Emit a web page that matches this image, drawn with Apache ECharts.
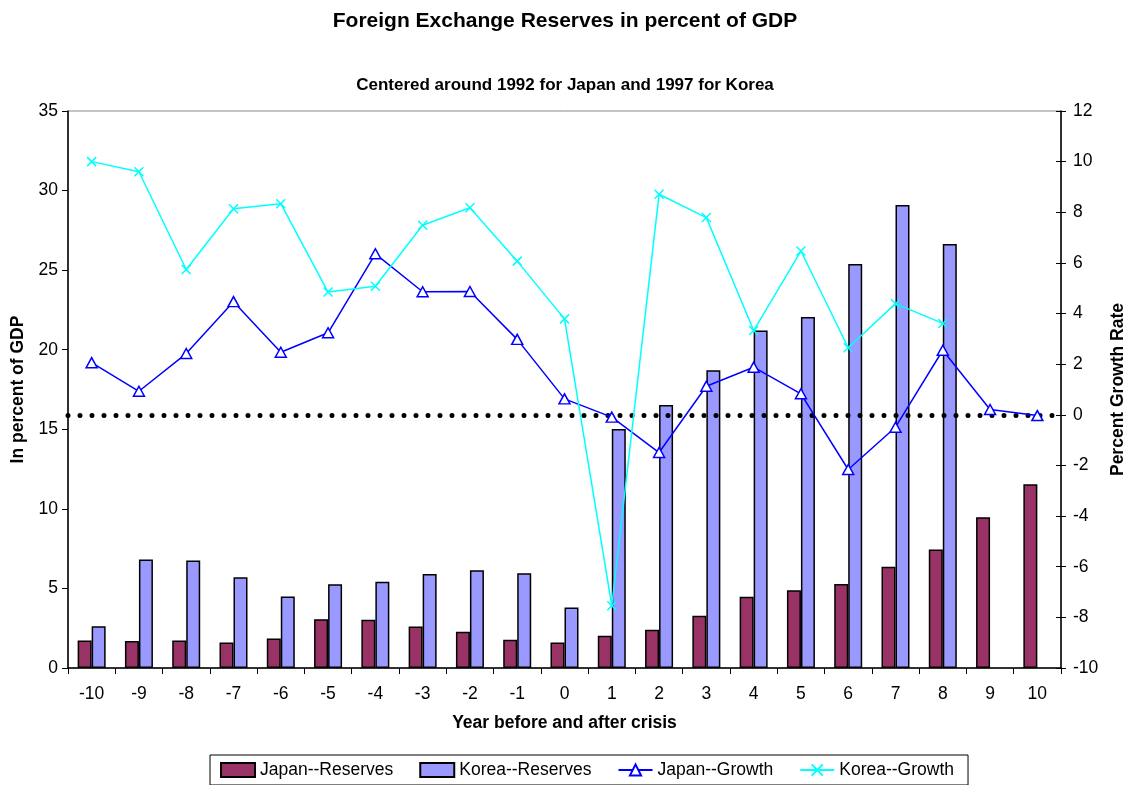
<!DOCTYPE html>
<html>
<head>
<meta charset="utf-8">
<script src="https://cdn.jsdelivr.net/npm/echarts@6/dist/echarts.min.js"></script>
<style>
  html, body { margin: 0; padding: 0; background: #fff; }
  #chart { width: 1130px; height: 785px; }
</style>
</head>
<body>
<div id="chart"></div>
<script>
// years relative to the crisis
const years = ['-10', '-9', '-8', '-7', '-6', '-5', '-4', '-3', '-2', '-1', '0',
  '1', '2', '3', '4', '5', '6', '7', '8', '9', '10']

// reserves, percent of GDP (left axis)
const japanReserves = [1.73, 1.69, 1.73, 1.60, 1.86, 3.07, 3.03, 2.61, 2.28, 1.77, 1.60,
  2.02, 2.40, 3.28, 4.48, 4.89, 5.28, 6.36, 7.45, 9.48, 11.54]
const koreaReserves = [2.63, 6.82, 6.76, 5.71, 4.50, 5.27, 5.42, 5.90, 6.15, 5.96, 3.80,
  15.02, 16.53, 18.71, 21.2, 22.06, 25.38, 29.09, 26.64, null, null]

// growth rates, percent (right axis)
const japanGrowth = [2.06, 0.93, 2.42, 4.47, 2.47, 3.24, 6.36, 4.86, 4.87, 2.98, 0.63,
  -0.09, -1.49, 1.13, 1.88, 0.83, -2.16, -0.49, 2.55, 0.21, -0.03]
const koreaGrowth = [10.0, 9.6, 5.74, 8.14, 8.34, 4.85, 5.08, 7.49, 8.18, 6.07, 3.79,
  -7.54, 8.71, 7.79, 3.33, 6.47, 2.65, 4.39, 3.61, null, null]

const font = 'Liberation Sans, Arial, sans-serif'
const fs = 17.5
const crossPath = 'path://M0,0L10,10M10,0L0,10'

const chart = echarts.init(document.getElementById('chart'))
chart.setOption({
  animation: false,
  backgroundColor: '#fff',
  textStyle: { fontFamily: font },
  title: [
    {
      text: 'Foreign Exchange Reserves in percent of GDP',
      left: 'center', top: 6,
      textStyle: { fontSize: 21, fontWeight: 'bold', color: '#000', fontFamily: font }
    },
    {
      text: 'Centered around 1992 for Japan and 1997 for Korea',
      left: 'center', top: 72,
      textStyle: { fontSize: 17, fontWeight: 'bold', color: '#000', fontFamily: font }
    }
  ],
  legend: {
    left: 210, top: 755,
    padding: [6, 14, 6, 10],
    itemGap: 26,
    itemWidth: 34, itemHeight: 14,
    borderColor: '#000', borderWidth: 1,
    textStyle: { fontSize: fs, color: '#000', fontFamily: font },
    data: [
      { name: 'Japan--Reserves', icon: 'rect' },
      { name: 'Korea--Reserves', icon: 'rect' },
      'Japan--Growth',
      'Korea--Growth'
    ]
  },
  grid: {
    left: 68, right: 69, top: 111, bottom: 117,
    outerBoundsMode: 'none',
    show: true, borderColor: '#888', borderWidth: 1
  },
  xAxis: {
    type: 'category',
    data: years,
    name: 'Year before and after crisis',
    nameLocation: 'middle',
    nameGap: 46,
    nameTextStyle: { fontSize: fs, fontWeight: 'bold', color: '#000' },
    axisLine: { lineStyle: { color: '#000', width: 1.5 } },
    axisTick: { show: true, length: 6, lineStyle: { color: '#000' } },
    axisLabel: { fontSize: fs, color: '#000', margin: 17 }
  },
  yAxis: [
    {
      type: 'value', min: 0, max: 35, interval: 5,
      name: 'In percent of GDP',
      nameLocation: 'middle', nameGap: 41,
      nameTextStyle: { fontSize: fs, fontWeight: 'bold', color: '#000' },
      axisLine: { show: true, lineStyle: { color: '#000', width: 1.5 } },
      axisTick: { show: true, length: 6, lineStyle: { color: '#000' } },
      axisLabel: { fontSize: fs, color: '#000', margin: 10 },
      splitLine: { show: false }
    },
    {
      type: 'value', min: -10, max: 12, interval: 2,
      name: 'Percent Growth Rate',
      nameLocation: 'middle', nameGap: 46,
      nameTextStyle: { fontSize: fs, fontWeight: 'bold', color: '#000' },
      axisLine: { show: true, lineStyle: { color: '#000', width: 1.5 } },
      axisTick: { show: true, length: 5, lineStyle: { color: '#000' } },
      axisLabel: { fontSize: fs, color: '#000', margin: 12 },
      splitLine: { show: false }
    },
    {
      // inner half of the crossing ticks on the right axis
      type: 'value', min: -10, max: 12, interval: 2, position: 'right',
      axisLine: { show: false },
      axisTick: { show: true, inside: true, length: 5, lineStyle: { color: '#000' } },
      axisLabel: { show: false },
      splitLine: { show: false }
    }
  ],
  series: [
    {
      name: 'Japan--Reserves',
      type: 'bar',
      data: japanReserves,
      barWidth: 14,
      barGap: '0%',
      itemStyle: { color: '#993366', borderColor: '#000', borderWidth: 1.5 }
    },
    {
      name: 'Korea--Reserves',
      type: 'bar',
      data: koreaReserves,
      barWidth: 14,
      itemStyle: { color: '#9999FF', borderColor: '#000', borderWidth: 1.5 }
    },
    {
      name: 'Japan--Growth',
      type: 'line',
      yAxisIndex: 1,
      data: japanGrowth,
      symbol: 'triangle',
      symbolSize: [11, 10],
      lineStyle: { color: '#0000FF', width: 1.5 },
      itemStyle: { color: '#fff', borderColor: '#0000FF', borderWidth: 1.5 },
      z: 4,
      markLine: {
        silent: true,
        symbol: 'none',
        label: { show: false },
        lineStyle: { color: '#000', width: 5, type: [0, 12], cap: 'round' },
        data: [{ yAxis: 0 }],
        z: 3
      }
    },
    {
      name: 'Korea--Growth',
      type: 'line',
      yAxisIndex: 1,
      data: koreaGrowth,
      symbol: crossPath,
      symbolSize: 9,
      lineStyle: { color: '#00FFFF', width: 1.5 },
      itemStyle: { color: '#00FFFF', borderColor: '#00FFFF', borderWidth: 1.5 },
      z: 4
    }
  ]
})
</script>
</body>
</html>
